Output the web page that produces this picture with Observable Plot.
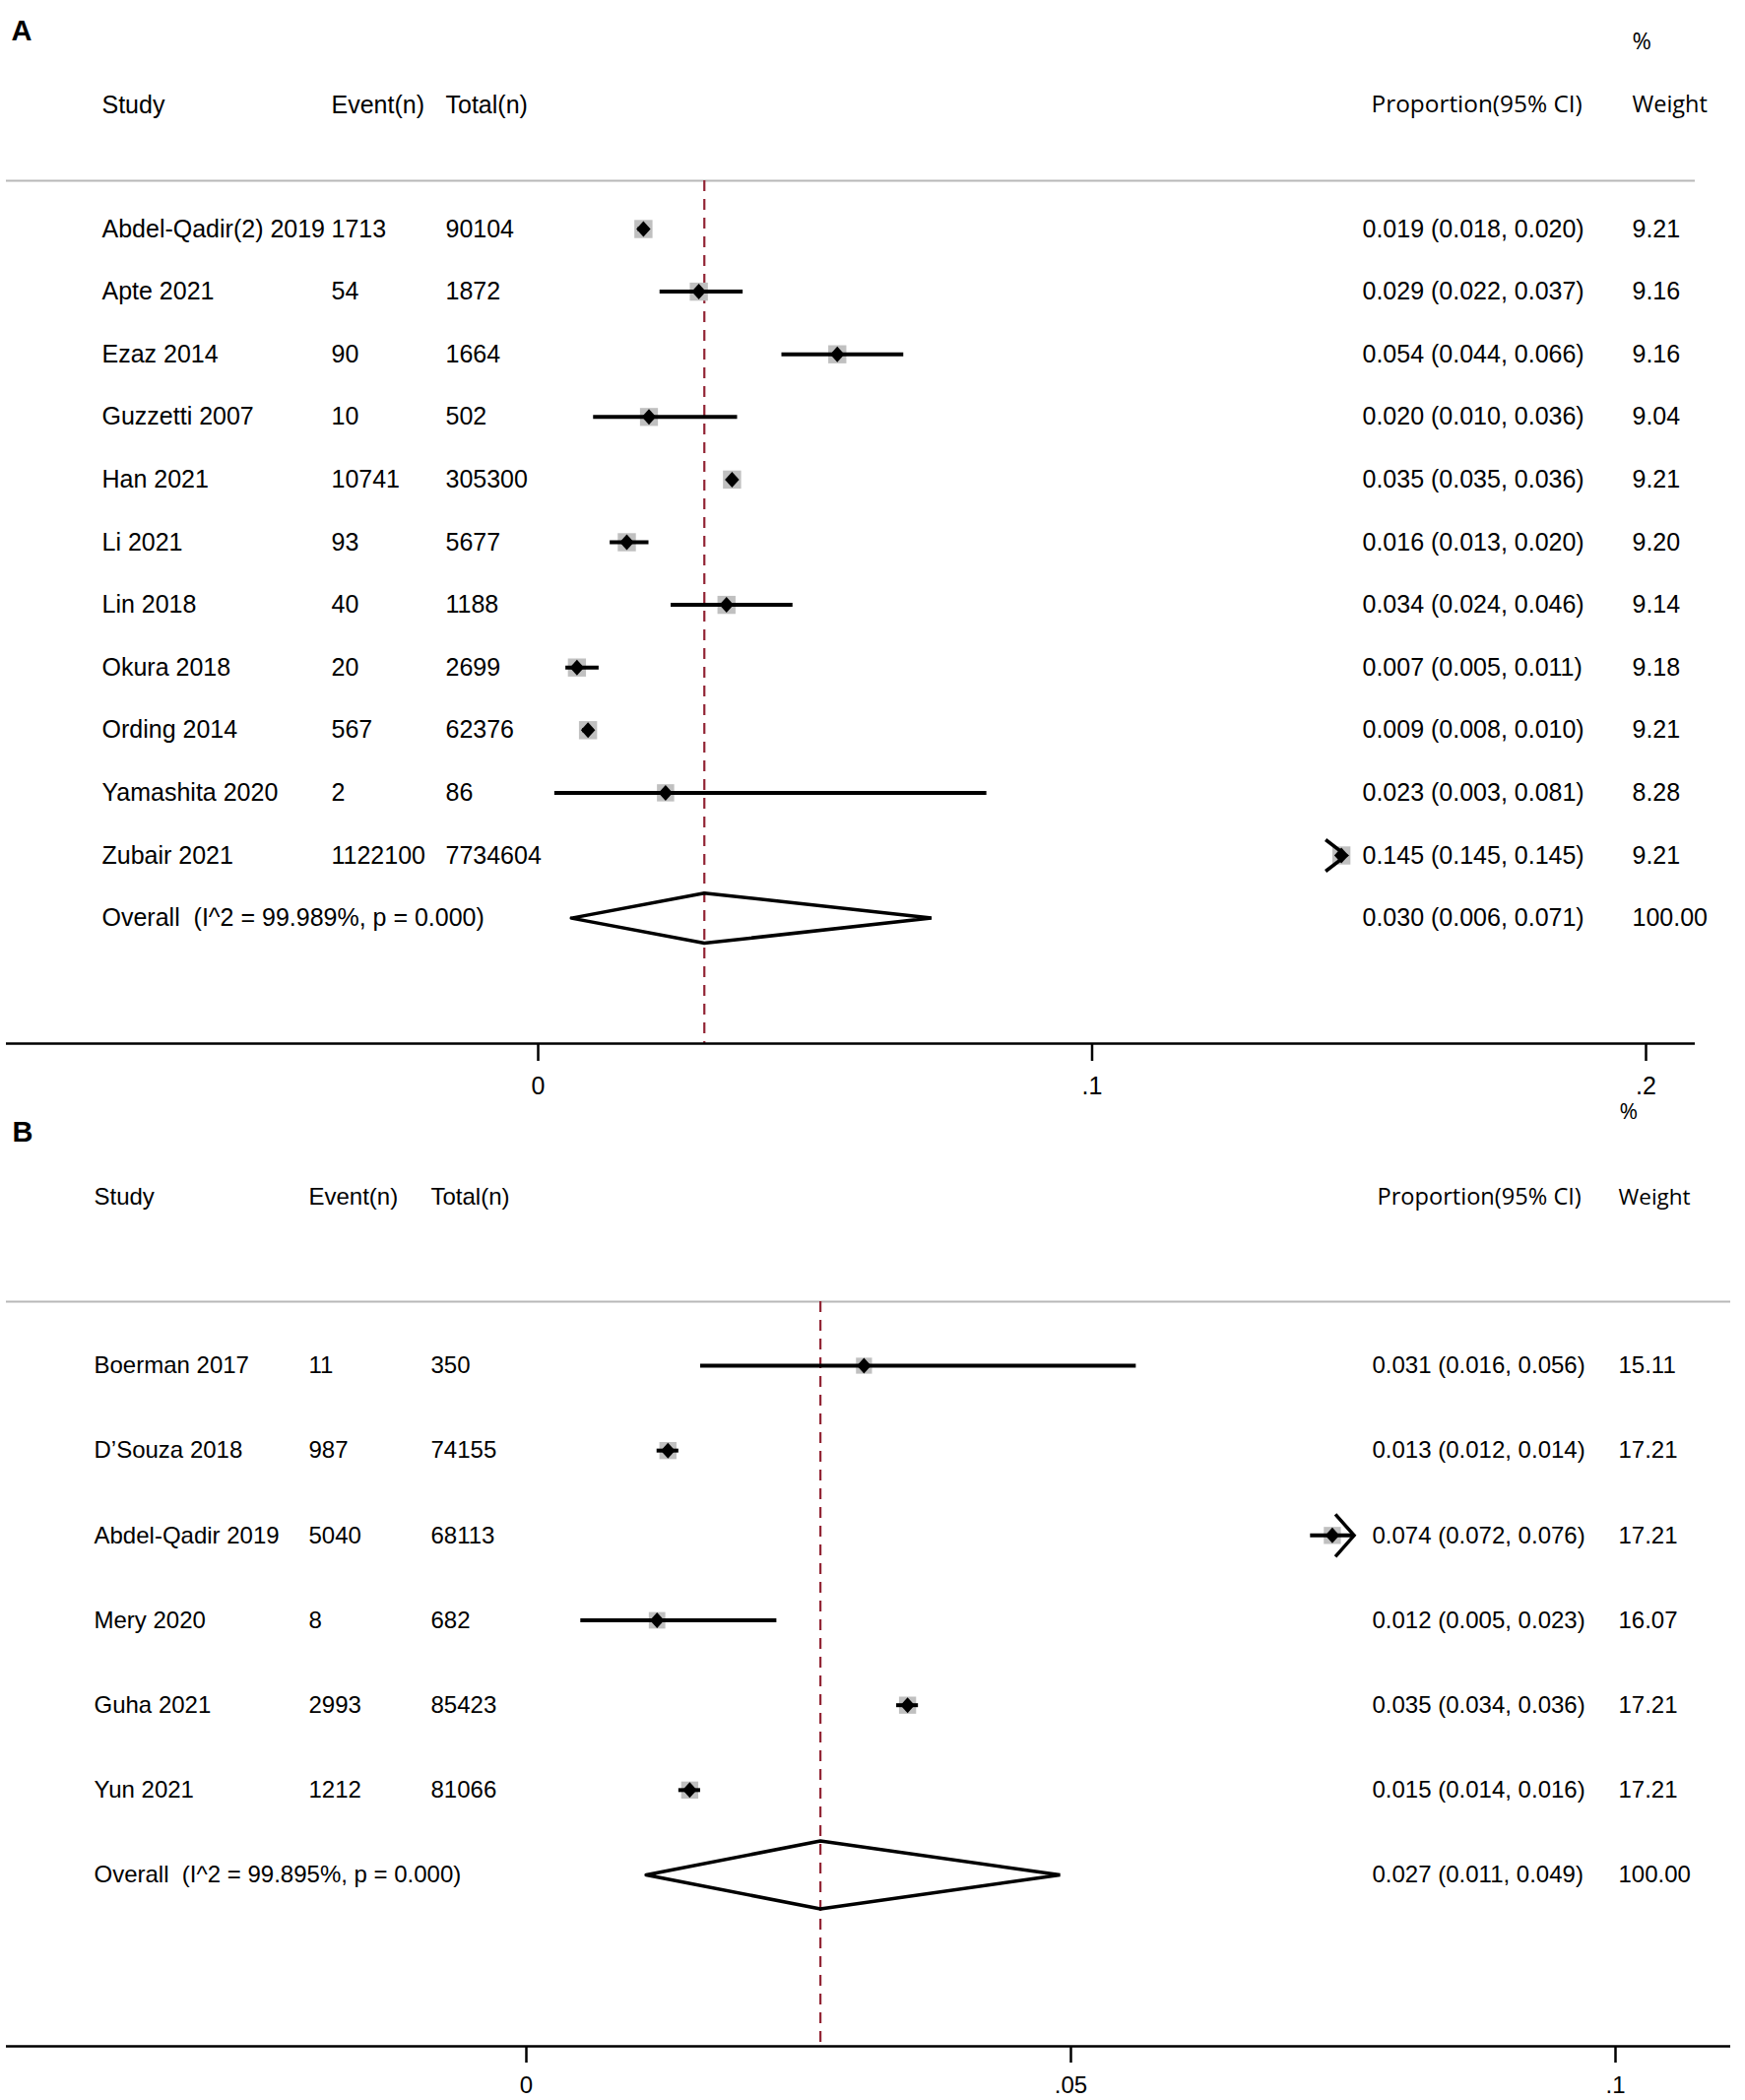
<!DOCTYPE html>
<html>
<head>
<meta charset="utf-8">
<script src="https://cdn.jsdelivr.net/npm/d3@7"></script>
<script src="https://cdn.jsdelivr.net/npm/@observablehq/plot@0.6"></script>
<style>
  body { margin: 0; background: #fff; }
  #page { position: relative; width: 1772px; height: 2132px; background: #fff; overflow: hidden; }
  .panel { position: absolute; left: 0; }
</style>
</head>
<body>
<div id="page">
  <div id="pa" class="panel" style="top:0px"></div>
  <div id="pb" class="panel" style="top:1112px"></div>
</div>
<script>
// ---------------- Panel A data ----------------
const studiesA = ["Abdel-Qadir(2) 2019", "Apte 2021", "Ezaz 2014", "Guzzetti 2007", "Han 2021", "Li 2021",
  "Lin 2018", "Okura 2018", "Ording 2014", "Yamashita 2020", "Zubair 2021"];
const eventsA = [1713, 54, 90, 10, 10741, 93, 40, 20, 567, 2, 1122100];
const totalsA = [90104, 1872, 1664, 502, 305300, 5677, 1188, 2699, 62376, 86, 7734604];
const propA = [0.019, 0.029, 0.054, 0.020, 0.035, 0.016, 0.034, 0.007, 0.009, 0.023, 0.145];
const lowA  = [0.018, 0.022, 0.044, 0.010, 0.035, 0.013, 0.024, 0.005, 0.008, 0.003, 0.145];
const highA = [0.020, 0.037, 0.066, 0.036, 0.036, 0.020, 0.046, 0.011, 0.010, 0.081, 0.145];
const weightA = [9.21, 9.16, 9.16, 9.04, 9.21, 9.20, 9.14, 9.18, 9.21, 8.28, 9.21];
const overallLabelA = "Overall\u00a0\u00a0(I^2 = 99.989%, p = 0.000)";
const overallA = [0.030, 0.006, 0.071];
const overallWeightA = 100.00;
const arrowStudiesA = ["Zubair 2021"];
const ticksA = [0, 0.1, 0.2];
const tickLabelsA = ["0", ".1", ".2"];

// ---------------- Panel B data ----------------
const studiesB = ["Boerman 2017", "D\u2019Souza 2018", "Abdel-Qadir 2019", "Mery 2020", "Guha 2021", "Yun 2021"];
const eventsB = [11, 987, 5040, 8, 2993, 1212];
const totalsB = [350, 74155, 68113, 682, 85423, 81066];
const propB = [0.031, 0.013, 0.074, 0.012, 0.035, 0.015];
const lowB  = [0.016, 0.012, 0.072, 0.005, 0.034, 0.014];
const highB = [0.056, 0.014, 0.076, 0.023, 0.036, 0.016];
const weightB = [15.11, 17.21, 17.21, 16.07, 17.21, 17.21];
const overallLabelB = "Overall\u00a0\u00a0(I^2 = 99.895%, p = 0.000)";
const overallB = [0.027, 0.011, 0.049];
const overallWeightB = 100.00;
const arrowStudiesB = ["Abdel-Qadir 2019"];
const ticksB = [0, 0.05, 0.1];
const tickLabelsB = ["0", ".05", ".1"];

// ---------------- Header texts ----------------
const headerText = {study: "Study", event: "Event(n)", total: "Total(n)", prop: "Proportion(95% CI)", weight: "Weight", pct: "%"};

// ---------------- Layout (page pixels) ----------------
const layoutA = {
  top: 0, height: 1112, rowY0: 232, rowStep: 63.6, xRange: [546, 1671], xDomain: [0, 0.2],
  frameLeft: 6, frameRight: 1721, letter: "A", letterX: 11, letterY: 31, pctY: 42, headerY: 106,
  ruleY: 183, axisY: 1059, tickLen: 18, tickLabelY: 1102, boxR: 10.4, fs: 25, hfs: 23.5, pfs: 24.4,
  cols: {study: 103, event: 336, total: 452, ci: 1383, weight: 1657, prop: 1392, pct: 1657},
  head: {back: 21, half: 16, dx: 5}
};
const layoutB = {
  top: 1112, height: 1020, rowY0: 1386, rowStep: 86.17, xRange: [534, 1640], xDomain: [0, 0.1],
  frameLeft: 6, frameRight: 1757, letter: "B", letterX: 12, letterY: 1149, pctY: 1128, headerY: 1215,
  ruleY: 1321, axisY: 2077, tickLen: 17, tickLabelY: 2117, boxR: 9.8, fs: 24, hfs: 22.5, pfs: 23.6,
  cols: {study: 95, event: 313, total: 437, ci: 1393, weight: 1643, prop: 1398, pct: 1644},
  head: {back: 19, half: 21.5, dx: 0}
};

// slightly tall diamond marker
const tallDiamond = {
  draw(ctx, size) {
    const r = Math.sqrt(size / Math.PI);
    ctx.moveTo(0, -r * 1.05);
    ctx.lineTo(r * 0.95, 0);
    ctx.lineTo(0, r * 1.05);
    ctx.lineTo(-r * 0.95, 0);
    ctx.closePath();
  }
};
// open chevron ">" (tip at the anchor point)
const chevron = (back, half) => ({
  draw(ctx) {
    ctx.moveTo(-back, -half);
    ctx.lineTo(0, 0);
    ctx.lineTo(-back, half);
  }
});

function forest(d, L) {
  const n = d.studies.length;
  const R = y => (y - L.rowY0) / L.rowStep;          // page px -> row units
  const xs = d3.scaleLinear(L.xDomain, L.xRange);     // mirror of Plot's x scale, for text columns
  const X = px => xs.invert(px);
  const rows = d.studies.map((s, i) => ({
    i, study: s, event: d.events[i], total: d.totals[i],
    est: d.prop[i], lo: d.low[i], hi: d.high[i], w: d.weight[i]
  }));
  const arrowed = rows.filter(r => d.arrows.includes(r.study));
  const f3 = d3.format(".3f"), f2 = d3.format(".2f");
  const [oe, ol, oh] = d.overall;
  const ov = {i: n, study: d.overallLabel, est: oe, lo: ol, hi: oh, w: d.overallWeight};
  const all = [...rows, ov];
  const ciText = r => `${f3(r.est)} (${f3(r.lo)}, ${f3(r.hi)})`;
  const dia = [[ol, n], [oe, n - 0.4], [oh, n], [oe, n + 0.4], [ol, n]];
  const arial = {fontFamily: "'Liberation Sans', Arial, Helvetica, sans-serif", fill: "#000", textAnchor: "start"};
  const segoe = {fontFamily: "'Open Sans', 'Noto Sans', sans-serif", fill: "#000", textAnchor: "start"};

  return Plot.plot({
    width: 1772,
    height: L.height,
    marginLeft: L.frameLeft, marginRight: 1772 - L.frameRight, marginTop: 0, marginBottom: 0,
    x: {domain: L.xDomain, range: L.xRange, axis: null},
    y: {domain: [0, n], range: [L.rowY0 - L.top, L.rowY0 - L.top + n * L.rowStep], axis: null},
    r: {type: "sqrt", domain: [0, d3.max(d.weight)], range: [0, L.boxR]},
    style: {background: "transparent", overflow: "visible"},
    marks: [
      // panel letter
      Plot.text([L.letter], {x: X(L.letterX), y: R(L.letterY), text: t => t, ...arial,
        fontWeight: "bold", fontSize: 29}),
      // headers
      Plot.text(["pct"], {x: X(L.cols.pct), y: R(L.pctY), text: k => headerText[k], ...segoe, fontSize: L.hfs}),
      Plot.text(["study", "event", "total"], {x: k => X(L.cols[k]), y: R(L.headerY), text: k => headerText[k], ...arial, fontSize: L.fs}),
      Plot.text(["prop"], {x: k => X(L.cols[k]), y: R(L.headerY), text: k => headerText[k], ...segoe, fontSize: L.pfs}),
      Plot.text(["weight"], {x: k => X(L.cols[k]), y: R(L.headerY), text: k => headerText[k], ...segoe, fontSize: L.hfs}),
      // header separator
      Plot.ruleY([R(L.ruleY)], {stroke: "#b8b8b8", strokeWidth: 2.2}),
      // overall estimate reference line
      Plot.ruleX([oe], {y1: R(L.ruleY), y2: R(L.axisY), stroke: "#922434", strokeWidth: 2.2, strokeDasharray: "11,8"}),
      // weight boxes
      Plot.dot(rows, {x: "est", y: "i", r: "w", symbol: "square", fill: "#c0c0c0"}),
      // confidence intervals
      Plot.ruleY(rows, {y: "i", x1: "lo", x2: "hi", stroke: "#000", strokeWidth: 4}),
      // arrow heads for truncated intervals
      Plot.dot(arrowed, {x: "hi", y: "i", dx: L.head.dx, r: 5, symbol: chevron(L.head.back, L.head.half),
        fill: "none", stroke: "#000", strokeWidth: 3.5, strokeLinejoin: "miter"}),
      // point estimates
      Plot.dot(rows, {x: "est", y: "i", r: 7.6, symbol: tallDiamond, fill: "#000"}),
      // pooled diamond
      Plot.line(dia, {x: p => p[0], y: p => p[1], stroke: "#000", strokeWidth: 3.5, strokeLinejoin: "miter", curve: "linear"}),
      // x axis
      Plot.ruleY([R(L.axisY)], {stroke: "#000", strokeWidth: 2.5}),
      Plot.ruleX(d.ticks, {x: t => t, y1: R(L.axisY), y2: R(L.axisY + L.tickLen), stroke: "#000", strokeWidth: 2.5}),
      Plot.text(d.ticks, {x: t => t, y: R(L.tickLabelY), text: (t, i) => d.tickLabels[i],
        fontFamily: "'Liberation Sans', Arial, sans-serif", fontSize: L.fs, fill: "#000"}),
      // table columns
      Plot.text(all, {x: X(L.cols.study), y: "i", text: "study", ...arial, fontSize: L.fs}),
      Plot.text(rows, {x: X(L.cols.event), y: "i", text: r => String(r.event), ...arial, fontSize: L.fs}),
      Plot.text(rows, {x: X(L.cols.total), y: "i", text: r => String(r.total), ...arial, fontSize: L.fs}),
      Plot.text(all, {x: X(L.cols.ci), y: "i", text: ciText, ...arial, fontSize: L.fs}),
      Plot.text(all, {x: X(L.cols.weight), y: "i", text: r => f2(r.w), ...arial, fontSize: L.fs})
    ]
  });
}

const dataA = {studies: studiesA, events: eventsA, totals: totalsA, prop: propA, low: lowA, high: highA,
  weight: weightA, overallLabel: overallLabelA, overall: overallA, overallWeight: overallWeightA,
  arrows: arrowStudiesA, ticks: ticksA, tickLabels: tickLabelsA};
const dataB = {studies: studiesB, events: eventsB, totals: totalsB, prop: propB, low: lowB, high: highB,
  weight: weightB, overallLabel: overallLabelB, overall: overallB, overallWeight: overallWeightB,
  arrows: arrowStudiesB, ticks: ticksB, tickLabels: tickLabelsB};

document.getElementById("pa").appendChild(forest(dataA, layoutA));
document.getElementById("pb").appendChild(forest(dataB, layoutB));
</script>
</body>
</html>
